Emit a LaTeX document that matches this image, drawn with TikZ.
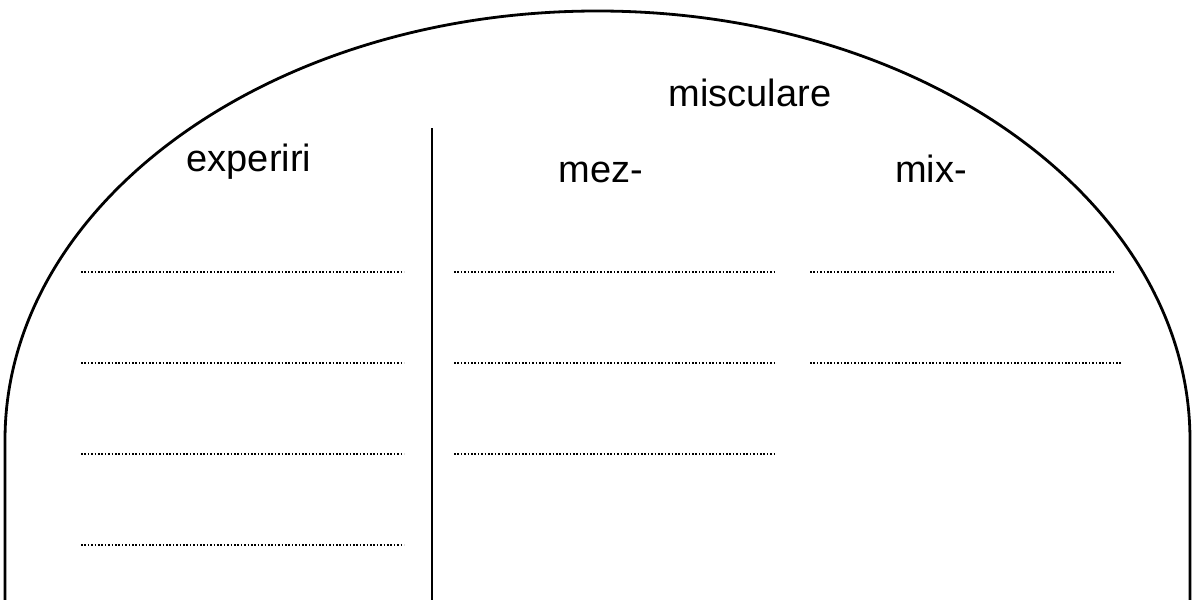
\documentclass[tikz,border=0pt]{standalone}
\usepackage{fontspec}
\setmainfont{Liberation Sans}
\begin{document}
\begin{tikzpicture}[x=1pt,y=1pt,
  rim/.style={line width=2.8pt},
  blank/.style={line width=1.6pt,dash pattern=on 1.6pt off 1.8pt},
  head/.style={anchor=base,inner sep=0pt,font=\fontsize{38}{40}\selectfont}]
  \useasboundingbox (0,0) rectangle (1192,600);
  % arch and sides
  \draw[rim] (5,0) -- (5,160) arc[start angle=180,end angle=0,x radius=592.5,y radius=429] -- (1190,0);
  \draw[line width=2.8pt] (432,0) -- (432,472);
  % headings
  \node[head] (mis) at (750,493) {misculare};
  \node[head] (exp) at (249,428) {experiri};
  \node[head] (mez) at (601,417) {mez-};
  \node[head] (mix) at (931,417) {mix-};
  % lines to fill in
  \foreach \y in {328,237,146,55}
    \draw[blank] (81,\y) -- (404,\y);
  \foreach \y in {328,237,146}
    \draw[blank] (454,\y) -- (776,\y);
  \draw[blank] (810,328) -- (1113,328);
  \draw[blank] (810,237) -- (1122,237);
\end{tikzpicture}
\end{document}
